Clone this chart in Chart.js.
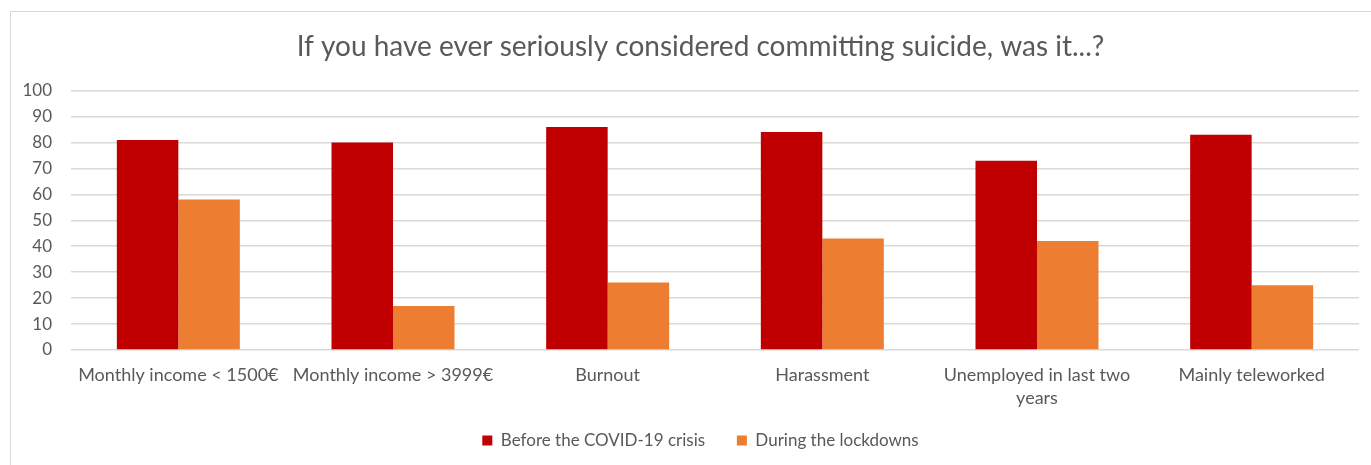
<!DOCTYPE html>
<html>
<head>
<meta charset="utf-8">
<title>Suicidal thoughts before and during lockdowns</title>
<script src="https://cdn.jsdelivr.net/npm/chart.js@4/dist/chart.umd.min.js"></script>
<style>
  html, body { margin: 0; padding: 0; background: #fff; overflow: hidden; }
  #frame {
    position: absolute; left: 10px; top: 11px;
    width: 1400px; height: 500px;
    border: 1px solid #d9d9d9;
  }
  #wrap { position: absolute; left: 0; top: 0; width: 1371px; height: 465px; }
</style>
</head>
<body>
<div id="frame"></div>
<div id="wrap"><canvas id="chart"></canvas></div>
<script>
  // categories (multi-line where the label wraps)
  const categories = [
    'Monthly income < 1500€',
    'Monthly income > 3999€',
    'Burnout',
    'Harassment',
    ['Unemployed in last two', 'years'],
    'Mainly teleworked'
  ];
  const beforeCrisis = [81, 80, 86, 84, 73, 83];
  const duringLockdowns = [58, 17, 26, 43, 42, 25];
  const yTicks = [0, 10, 20, 30, 40, 50, 60, 70, 80, 90, 100];

  const textColor = '#595959';
  const fontFamily = 'Lato, "Open Sans", sans-serif';

  Chart.defaults.font.family = fontFamily;
  Chart.defaults.color = textColor;

  new Chart(document.getElementById('chart'), {
    type: 'bar',
    data: {
      labels: categories,
      datasets: [
        {
          label: 'Before the COVID-19 crisis',
          data: beforeCrisis,
          backgroundColor: '#c00000'
        },
        {
          label: 'During the lockdowns',
          data: duringLockdowns,
          backgroundColor: '#ed7d31'
        }
      ]
    },
    options: {
      responsive: true,
      maintainAspectRatio: false,
      animation: false,
      categoryPercentage: 0.573,
      barPercentage: 1.0,
      layout: {
        padding: { left: 20, right: -10, top: 30, bottom: 6 }
      },
      plugins: {
        title: {
          display: true,
          text: 'If you have ever seriously considered committing suicide, was it...?',
          color: textColor,
          font: { size: 28, weight: 'normal' },
          padding: { top: 0, bottom: 27 }
        },
        legend: {
          position: 'bottom',
          labels: {
            boxWidth: 10,
            boxHeight: 10,
            padding: 19,
            font: { size: 17 },
            color: textColor,
            // wider gap between the two entries than between rows
            generateLabels: function(chart) {
              const items = Chart.defaults.plugins.legend.labels.generateLabels(chart);
              items.forEach((item, i) => {
                if (i < items.length - 1) item.text += '\u2003';
              });
              return items;
            }
          }
        },
        tooltip: { enabled: false }
      },
      scales: {
        x: {
          afterFit: function(scale) {
            scale.height = 63;
          },
          grid: { display: false, drawTicks: false },
          border: { display: false },
          ticks: {
            padding: 14,
            maxRotation: 0,
            autoSkip: false,
            font: { size: 18, lineHeight: 1.28 }
          }
        },
        y: {
          min: 0,
          max: 100,
          afterBuildTicks: function(scale) {
            scale.ticks = yTicks.map(v => ({ value: v }));
          },
          afterFit: function(scale) {
            scale.width = 51;
          },
          grid: { color: '#d9d9d9', lineWidth: 1.5, drawTicks: false },
          border: { display: false },
          ticks: {
            padding: 19,
            autoSkip: false,
            font: { size: 17 }
          }
        },
        // empty spacer on the right edge of the plot
        yRight: {
          position: 'right',
          afterFit: function(scale) {
            scale.width = 22;
          },
          grid: { display: false, drawTicks: false },
          border: { display: false },
          ticks: { display: false }
        }
      }
    }
  });
</script>
</body>
</html>
